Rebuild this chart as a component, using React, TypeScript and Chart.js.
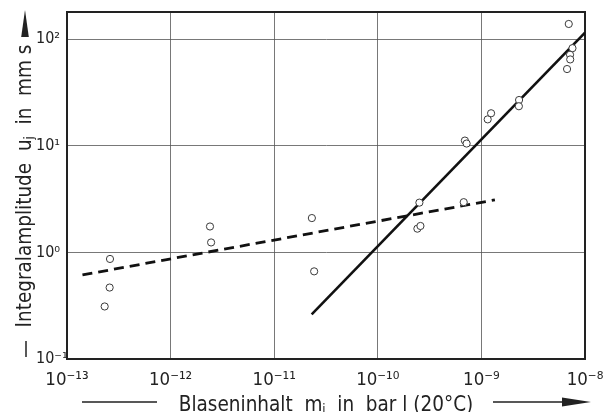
import React, { useEffect, useRef } from 'react';
import { Chart, registerables } from 'chart.js';

Chart.register(...registerables);

// Measured points: bubble content m_i (bar l) vs. integral amplitude u_j
const massX = [
  2.31e-13, 2.58e-13, 2.6e-13, 2.40e-12, 2.46e-12, 2.31e-11, 2.43e-11,
  2.52e-10, 2.41e-10, 2.58e-10, 6.75e-10, 6.93e-10, 7.2e-10, 1.15e-9, 1.24e-9,
  2.31e-9, 2.30e-9, 6.97e-9, 7.57e-9, 7.17e-9, 7.2e-9, 6.71e-9,
];
const amplitudeY = [
  0.311, 0.468, 0.868, 1.75, 1.24, 2.10, 0.664,
  2.93, 1.67, 1.77, 2.96, 11.2, 10.5, 17.7, 20.2,
  26.9, 23.5, 139, 82.4, 71.5, 64.6, 52.5,
];

// Fit lines
const dashedX = [1.41e-13, 1.35e-9];
const dashedY = [0.615, 3.11];
const solidX = [2.3e-11, 1e-8];
const solidY = [0.262, 115];

// Axes
const xTickValues = [1e-13, 1e-12, 1e-11, 1e-10, 1e-9, 1e-8];
const xTickLabels = ['10⁻¹³', '10⁻¹²', '10⁻¹¹', '10⁻¹⁰', '10⁻⁹', '10⁻⁸'];
const yTickValues = [0.1, 1, 10, 100];
const yTickLabels = ['10⁻¹', '10⁰', '10¹', '10²'];
const xMin = 1e-13;
const xMax = 1e-8;
const yMin = 0.1;
const yMax = 180;

const FONT = '"DejaVu Sans Condensed", "Liberation Sans Narrow", "DejaVu Sans", sans-serif';
const INK = '#222';
const TITLE_SIZE = 20.5;

function drawSubText(
  ctx: CanvasRenderingContext2D,
  parts: { t: string; sub?: boolean }[],
  x: number,
  y: number,
  size: number
) {
  let total = 0;
  for (const p of parts) {
    ctx.font = `${p.sub ? Math.round(size * 0.62) : size}px ${FONT}`;
    total += ctx.measureText(p.t).width;
  }
  let cx = x - total / 2;
  ctx.textAlign = 'left';
  ctx.textBaseline = 'alphabetic';
  for (const p of parts) {
    ctx.font = `${p.sub ? Math.round(size * 0.62) : size}px ${FONT}`;
    ctx.fillText(p.t, cx, p.sub ? y + size * 0.12 : y);
    cx += ctx.measureText(p.t).width;
  }
  return total;
}

const framePlugin = {
  id: 'frame',
  beforeDatasetsDraw(chart: any) {
    const { ctx, chartArea: a } = chart;
    ctx.save();
    ctx.strokeStyle = INK;
    ctx.lineWidth = 2;
    ctx.strokeRect(a.left, a.top, a.right - a.left, a.bottom - a.top);
    ctx.restore();
  },
  afterDraw(chart: any) {
    const { ctx, chartArea: a } = chart;
    ctx.save();
    ctx.fillStyle = INK;
    ctx.strokeStyle = INK;
    ctx.lineWidth = 1.5;

    // X axis title
    const cx = (a.left + a.right) / 2;
    drawSubText(
      ctx,
      [{ t: 'Blaseninhalt  m' }, { t: 'i', sub: true }, { t: '  in  bar l (20°C)' }],
      cx,
      411,
      TITLE_SIZE
    );
    const lineY = 402;
    ctx.beginPath();
    ctx.moveTo(82, lineY);
    ctx.lineTo(157, lineY);
    ctx.moveTo(493, lineY);
    ctx.lineTo(564, lineY);
    ctx.stroke();
    ctx.beginPath();
    ctx.moveTo(562, lineY - 4.5);
    ctx.lineTo(591, lineY);
    ctx.lineTo(562, lineY + 4.5);
    ctx.closePath();
    ctx.fill();

    // Y axis title (rotated)
    const tx = 31;
    const ty = 186;
    ctx.translate(tx, ty);
    ctx.rotate(-Math.PI / 2);
    drawSubText(
      ctx,
      [{ t: 'Integralamplitude  u' }, { t: 'j', sub: true }, { t: '  in  mm s' }],
      0,
      0,
      TITLE_SIZE
    );
    // leading dash (screen y 340..356 at x = 26)
    ctx.beginPath();
    ctx.moveTo(ty - 357, -5);
    ctx.lineTo(ty - 341, -5);
    ctx.stroke();
    // arrow head (screen y 38 -> 10 at x = 25)
    ctx.beginPath();
    ctx.moveTo(ty - 37, -6 - 3.8);
    ctx.lineTo(ty - 10, -6);
    ctx.lineTo(ty - 37, -6 + 3.8);
    ctx.closePath();
    ctx.fill();
    ctx.restore();
  },
};

export default function App() {
  const ref = useRef<HTMLCanvasElement | null>(null);

  useEffect(() => {
    document.body.style.margin = '0';
    const canvas = ref.current;
    if (!canvas) return;
    const chart = new Chart(canvas, {
      type: 'scatter',
      data: {
        datasets: [
          {
            label: 'Messwerte',
            data: massX.map((x, i) => ({ x, y: amplitudeY[i] })),
            pointStyle: 'circle',
            pointRadius: 3.6,
            pointBorderWidth: 1,
            pointBorderColor: '#3a3a3a',
            pointBackgroundColor: '#ffffff',
            showLine: false,
          },
          {
            label: 'gestrichelt',
            data: dashedX.map((x, i) => ({ x, y: dashedY[i] })),
            showLine: true,
            borderColor: '#111',
            borderWidth: 2.8,
            borderDash: [10, 6],
            pointRadius: 0,
          },
          {
            label: 'durchgezogen',
            data: solidX.map((x, i) => ({ x, y: solidY[i] })),
            showLine: true,
            borderColor: '#111',
            borderWidth: 2.6,
            pointRadius: 0,
          },
        ],
      },
      options: {
        animation: false,
        responsive: false,
        maintainAspectRatio: false,
        layout: { padding: { top: 12, right: 27, left: 36, bottom: 0 } },
        plugins: { legend: { display: false }, tooltip: { enabled: false } },
        scales: {
          x: {
            type: 'logarithmic',
            min: xMin,
            max: xMax,
            afterBuildTicks: (scale: any) => {
              scale.ticks = xTickValues.map((v) => ({ value: v }));
            },
            afterFit: (scale: any) => {
              scale.height = 53;
              scale.paddingRight = 0;
              scale.paddingLeft = 0;
            },
            ticks: {
              callback: (_v: any, i: number) => xTickLabels[i],
              font: { family: FONT, size: 18.5 },
              color: INK,
              padding: 10,
              maxRotation: 0,
              autoSkip: false,
            },
            grid: { color: '#555', lineWidth: 0.8, drawTicks: false },
            border: { display: true, color: INK, width: 2 },
          },
          y: {
            type: 'logarithmic',
            min: yMin,
            max: yMax,
            afterBuildTicks: (scale: any) => {
              scale.ticks = yTickValues.map((v) => ({ value: v }));
            },
            afterFit: (scale: any) => {
              scale.width = 31;
              scale.paddingTop = 0;
              scale.paddingBottom = 0;
            },
            ticks: {
              callback: (_v: any, i: number) => yTickLabels[i],
              font: { family: FONT, size: 16 },
              color: INK,
              padding: 3,
              crossAlign: 'far',
              autoSkip: false,
            },
            grid: { color: '#555', lineWidth: 0.8, drawTicks: false },
            border: { display: true, color: INK, width: 2 },
          },
        },
      },
      plugins: [framePlugin],
    });
    return () => chart.destroy();
  }, []);

  return (
    <div style={{ position: 'absolute', left: 0, top: 0, width: 612, height: 412, background: '#fff' }}>
      <canvas ref={ref} width={612} height={412} style={{ width: 612, height: 412 }} />
    </div>
  );
}
